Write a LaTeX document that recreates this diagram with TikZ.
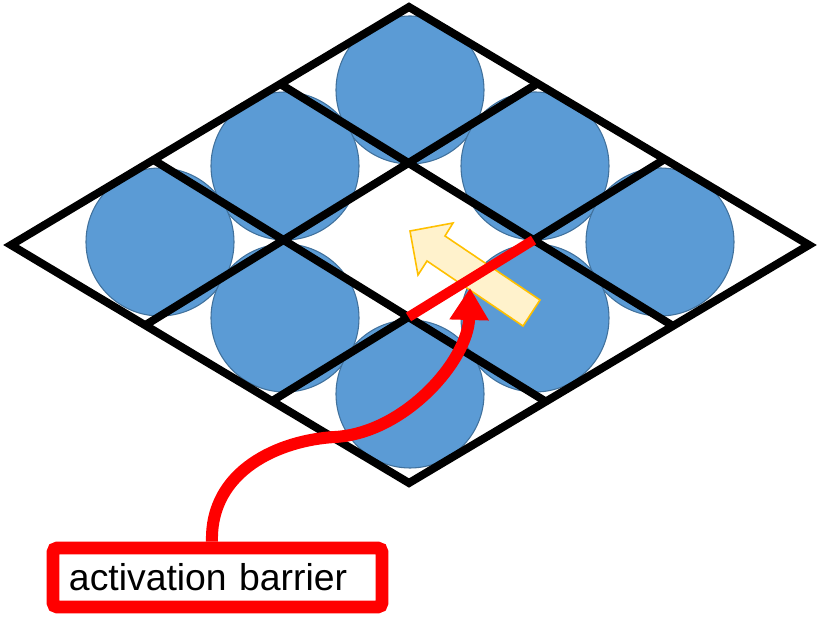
\documentclass[tikz,border=0pt]{standalone}
\usepackage{fontspec}
\setsansfont{Liberation Sans}
\usetikzlibrary{arrows.meta}
\definecolor{atomblue}{HTML}{5B9BD5}
\definecolor{atomedge}{HTML}{41719C}
\definecolor{hopfill}{HTML}{FFF2CC}
\definecolor{hopedge}{HTML}{FFC000}
\definecolor{barrier}{HTML}{FF0000}

\begin{document}
\begin{tikzpicture}[
  x=0.75pt, y=-0.75pt,
  atom/.style={circle, fill=atomblue, draw=atomedge, line width=0.8pt, minimum size=111pt, inner sep=0pt},
  gridline/.style={line width=6pt, black, line join=miter},
  jump/.style={fill=hopfill, draw=hopedge, line width=1.2pt, line join=miter},
  wall/.style={barrier, line width=7.5pt},
  arr/.style={barrier, line width=9pt, -{Triangle[length=24pt, width=28pt]}},
  lbl/.style={draw=barrier, line width=9.5pt, rounded corners=3pt, fill=white, text width=222.75pt, inner xsep=12pt, minimum height=44.25pt, align=left, font=\sffamily\fontsize{28}{34}\selectfont},
]
\useasboundingbox (0,0) rectangle (819,623);

% lattice sites, the middle one is empty
\foreach \i/\j in {0/-2, -1/-1, 1/-1, -2/0, 2/0, -1/1, 1/1, 0/2}
  \node[atom] (site\i\j) at ({410+125*\i},{242+76*\j}) {};

% corners of the vacant cell
\coordinate (vt) at (408.5,163);
\coordinate (vb) at (408.5,317);
\coordinate (vl) at (283.5,240);
\coordinate (vr) at (533.5,240);

\begin{scope}
  \clip (409,7) -- (809,245) -- (409,483) -- (11,245) -- cycle;
  \draw[gridline] (-91.5,471) -- (783.5,-68);
  \draw[gridline] (33.5,548) -- (908.5,9);
  \draw[gridline] (-91.5,9) -- (783.5,548);
  \draw[gridline] (33.5,-68) -- (908.5,471);
\end{scope}
\draw[gridline] (409,7) -- (809,245) -- (409,483) -- (11,245) -- cycle;

% hop direction
\draw[jump] (410,231) -- (453,223) -- (445,236) -- (540,300) -- (523,326) -- (427,261) -- (418,275) -- cycle;

\draw[wall] (vb) -- (vr);

\node[lbl] (label) at (217.5,577.5) {activation barrier};
\coordinate (hoptip) at (470,288);
\draw[arr] (212,0 |- label.north) .. controls (210,470) and (280,440) .. (335,437)
  .. controls (405,433) and (468,360) .. (hoptip);

\end{tikzpicture}
\end{document}
